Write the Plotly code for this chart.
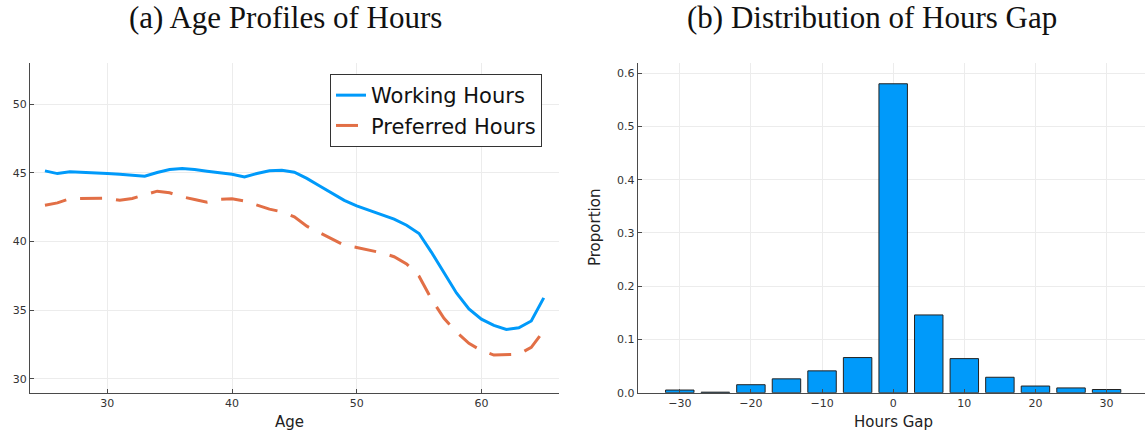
import plotly.graph_objects as go

# ---- data -------------------------------------------------------------
ages = list(range(25, 66))

working_hours = [
    45.15, 44.95, 45.08, 45.05, 44.98, 44.95, 44.90, 44.84, 44.76, 45.03,
    45.25, 45.32, 45.25, 45.12, 45.00, 44.90, 44.70, 44.96, 45.15, 45.20,
    45.05, 44.60, 44.06, 43.55, 43.00, 42.60, 42.27, 41.95, 41.63, 41.19,
    40.59, 39.22, 37.70, 36.26, 35.10, 34.35, 33.90, 33.60, 33.72, 34.22,
    35.90,
]

preferred_hours = [
    42.65, 42.82, 43.12, 43.14, 43.16, 43.15, 43.01, 43.14, 43.40, 43.67,
    43.55, 43.26, 43.07, 42.87, 43.07, 43.11, 42.96, 42.67, 42.36, 42.17,
    41.80, 41.12, 40.66, 40.20, 39.74, 39.57, 39.36, 39.18, 38.90, 38.38,
    37.48, 35.81, 34.41, 33.42, 32.59, 32.07, 31.74, 31.78, 31.80, 32.30,
    33.52,
]

gap_bins = [-30, -25, -20, -15, -10, -5, 0, 5, 10, 15, 20, 25, 30]
gap_share = [0.005, 0.001, 0.015, 0.026, 0.041, 0.066, 0.580,
             0.146, 0.064, 0.029, 0.0125, 0.009, 0.006]

left_title = "(a) Age Profiles of Hours"
right_title = "(b) Distribution of Hours Gap"
left_xlabel = "Age"
right_xlabel = "Hours Gap"
right_ylabel = "Proportion"

# ---- styling ----------------------------------------------------------
BLUE = "#009afa"
ORANGE = "#e26f46"
AXIS = "#4a4a4a"
GRID = "#ececec"
TICK_FONT = dict(family="DejaVu Sans", size=11, color="#333333")
LABEL_FONT = dict(family="DejaVu Sans", size=15, color="#222222")
HEAD_FONT = dict(family="Liberation Serif", size=31, color="#111111")

W, H = 1145, 433
y_dom = [40.3 / H, 370.0 / H]

fig = go.Figure()

fig.add_trace(go.Scatter(
    x=ages, y=working_hours, mode="lines", name="Working Hours",
    line=dict(color=BLUE, width=3), xaxis="x", yaxis="y",
))
fig.add_trace(go.Scatter(
    x=ages, y=preferred_hours, mode="lines", name="Preferred Hours",
    line=dict(color=ORANGE, width=3, dash="22px,14px"), xaxis="x", yaxis="y",
))
fig.add_trace(go.Bar(
    x=gap_bins, y=gap_share, width=4, showlegend=False,
    marker=dict(color=BLUE, line=dict(color="#222222", width=1)),
    xaxis="x2", yaxis="y2",
))

axis_common = dict(
    showline=True, linecolor=AXIS, linewidth=1.3,
    ticks="inside", ticklen=4, tickcolor=AXIS, tickwidth=1,
    showgrid=True, gridcolor=GRID, gridwidth=1,
    zeroline=False, tickfont=TICK_FONT, mirror=False, automargin=False,
)


def text_note(text, x, y, font, angle=0):
    return dict(text=text, x=x / W, y=1 - y / H, xref="paper", yref="paper",
                xanchor="center", yanchor="middle", showarrow=False,
                textangle=angle, font=font)


fig.update_layout(
    width=W, height=H,
    margin=dict(l=0, r=0, t=0, b=0),
    paper_bgcolor="white", plot_bgcolor="white",
    showlegend=True,
    xaxis=dict(
        domain=[30.0 / W, 558.7 / W], anchor="y",
        range=[23.8, 66.2], tickvals=[30, 40, 50, 60],
        **axis_common,
    ),
    yaxis=dict(
        domain=y_dom, anchor="x",
        range=[29, 53], tickvals=[30, 35, 40, 45, 50],
        **axis_common,
    ),
    xaxis2=dict(
        domain=[637.8 / W, 1.0], anchor="y2",
        range=[-35.9, 35.4], tickvals=[-30, -20, -10, 0, 10, 20, 30],
        **axis_common,
    ),
    yaxis2=dict(
        domain=y_dom, anchor="x2",
        range=[0, 0.619], tickvals=[0, 0.1, 0.2, 0.3, 0.4, 0.5, 0.6],
        tickformat=".1f",
        **axis_common,
    ),
    legend=dict(
        x=542 / W, y=1 - 74 / H, xanchor="right", yanchor="top",
        bgcolor="white", bordercolor="#333333", borderwidth=1,
        font=dict(family="DejaVu Sans", size=21, color="#111111"),
        tracegroupgap=0,
    ),
    annotations=[
        text_note(left_title, 285, 17, HEAD_FONT),
        text_note(right_title, 872, 17, HEAD_FONT),
        text_note(left_xlabel, 289, 422, LABEL_FONT),
        text_note(right_xlabel, 893, 422, LABEL_FONT),
        text_note(right_ylabel, 595, 228, LABEL_FONT, angle=-90),
    ],
)

fig.write_html("out.html")
